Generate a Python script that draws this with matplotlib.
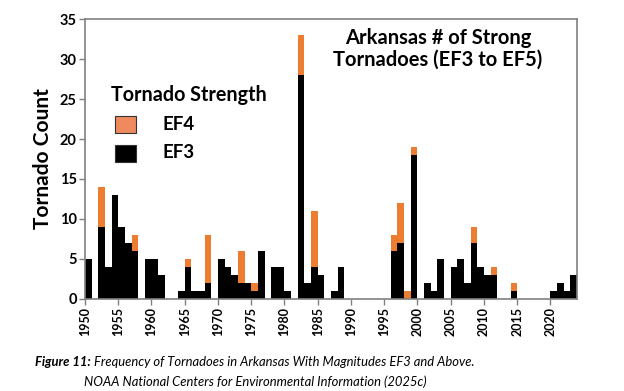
import matplotlib
matplotlib.use("Agg")
import matplotlib.pyplot as plt
import numpy as np
from matplotlib.patches import Rectangle

years = list(range(1950, 2024))
ef3 = [5, 0, 9, 4, 13, 9, 7, 6, 0, 5,
       5, 3, 0, 0, 1, 4, 1, 1, 2, 0,
       5, 4, 3, 2, 2, 1, 6, 0, 4, 4,
       1, 0, 28, 2, 4, 3, 0, 1, 4, 0,
       0, 0, 0, 0, 0, 0, 6, 7, 0, 18,
       0, 2, 1, 5, 0, 4, 5, 2, 7, 4,
       3, 3, 0, 0, 1, 0, 0, 0, 0, 0,
       1, 2, 1, 3]
ef4 = [0, 0, 5, 0, 0, 0, 0, 2, 0, 0,
       0, 0, 0, 0, 0, 1, 0, 0, 6, 0,
       0, 0, 0, 4, 0, 1, 0, 0, 0, 0,
       0, 0, 5, 0, 7, 0, 0, 0, 0, 0,
       0, 0, 0, 0, 0, 0, 2, 5, 1, 1,
       0, 0, 0, 0, 0, 0, 0, 0, 2, 0,
       0, 1, 0, 0, 1, 0, 0, 0, 0, 0,
       0, 0, 0, 0]
xticks = list(range(1950, 2021, 5))
yticks = list(range(0, 36, 5))

FONT = "Lato"
plt.rcParams['font.family'] = [FONT, 'DejaVu Sans']

fig = plt.figure(figsize=(6.24, 3.91), dpi=100)
ax = fig.add_axes([0.1362, 0.2353, 0.7885, 0.7161])

c3 = "#000000"
c4 = "#ED7D31"
ax.bar(years, ef3, width=1.0, align='edge', color=c3, linewidth=0)
ax.bar(years, ef4, width=1.0, align='edge', bottom=ef3, color=c4, linewidth=0)

ax.set_xlim(1950, 2024)
ax.set_ylim(0, 35)
ax.set_xticks(xticks)
ax.set_xticklabels([str(x) for x in xticks], rotation=90, fontsize=9, fontweight='bold')
ax.set_yticks(yticks)
ax.set_yticklabels([str(y) for y in yticks], fontsize=10.5, fontweight='bold')
ax.tick_params(axis='both', direction='out', length=4, width=1, color='#808080', pad=2)
for s in ax.spines.values():
    s.set_color('#808080')
    s.set_linewidth(1.2)

ax.set_ylabel("Tornado Count", fontsize=15, fontweight='bold', labelpad=5)

# Title inside plot
fig.text(0.702, 1 - 38/391, "Arkansas # of Strong", ha='center', va='center',
         fontsize=14.5, fontweight='bold')
fig.text(0.702, 1 - 60/391, "Tornadoes (EF3 to EF5)", ha='center', va='center',
         fontsize=14.5, fontweight='bold')

# Legend
fig.text(111/624, 1 - 95/391, "Tornado Strength", ha='left', va='center',
         fontsize=14.2, fontweight='bold')
pw, ph = 21/624, 17/391
fig.patches.append(Rectangle((115/624, 1 - 133/391), pw, ph, transform=fig.transFigure,
                             facecolor="#EE8A5E", edgecolor="#333333", linewidth=0.8))
fig.patches.append(Rectangle((115/624, 1 - 162/391), pw, ph, transform=fig.transFigure,
                             facecolor="#000000", edgecolor="#333333", linewidth=0.8))
fig.text(163/624, 1 - 125/391, "EF4", ha='left', va='center', fontsize=13.5, fontweight='bold')
fig.text(163/624, 1 - 153/391, "EF3", ha='left', va='center', fontsize=13.5, fontweight='bold')

# Caption
t1a = "Figure 11:"
t1b = " Frequency of Tornadoes in Arkansas With Magnitudes EF3 and Above."
fig.canvas.draw()
r = fig.canvas.get_renderer()
ta = fig.text(0, 1 - 362/391, t1a, fontsize=9.4, fontweight='bold', style='italic', va='center')
tb = fig.text(0, 1 - 362/391, t1b, fontsize=9.4, style='italic', va='center')
wa = ta.get_window_extent(r).width
wb = tb.get_window_extent(r).width
x0 = 255 - (wa + wb) / 2
ta.set_x(x0 / 624)
tb.set_x((x0 + wa) / 624)
fig.text(255/624, 1 - 382/391, "NOAA National Centers for Environmental Information (2025c)",
         ha='center', va='center', fontsize=9.4, style='italic')

fig.savefig("out.png", dpi=100)
